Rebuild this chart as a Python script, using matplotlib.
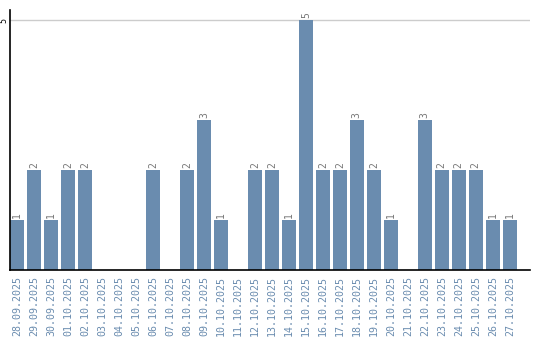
import matplotlib
matplotlib.use("Agg")
import matplotlib.pyplot as plt

# data
dates = ["28.09.2025", "29.09.2025", "30.09.2025", "01.10.2025", "02.10.2025",
         "03.10.2025", "04.10.2025", "05.10.2025", "06.10.2025", "07.10.2025",
         "08.10.2025", "09.10.2025", "10.10.2025", "11.10.2025", "12.10.2025",
         "13.10.2025", "14.10.2025", "15.10.2025", "16.10.2025", "17.10.2025",
         "18.10.2025", "19.10.2025", "20.10.2025", "21.10.2025", "22.10.2025",
         "23.10.2025", "24.10.2025", "25.10.2025", "26.10.2025", "27.10.2025"]
counts = [1, 2, 1, 2, 2, 0, 0, 0, 2, 0,
          2, 3, 1, 0, 2, 2, 1, 5, 2, 2,
          3, 2, 1, 0, 3, 2, 2, 2, 1, 1]

bar_color = "#6a8caf"

fig = plt.figure(figsize=(5.4, 3.4), dpi=100)
ax = fig.add_axes([10 / 540, 70 / 340, 520 / 540, 260 / 340])

x = list(range(len(dates)))
ax.bar(x, counts, width=0.82, color=bar_color, zorder=2)

for xi, c in zip(x, counts):
    if c > 0:
        ax.text(xi, c + 0.05, str(c), rotation=90, ha="center", va="bottom",
                fontsize=7, color="#777777", family="DejaVu Sans Mono")

ax.set_xlim(-0.41, 30.19)
ax.set_ylim(0, 5.2)
ax.set_yticks([5])
ax.set_yticklabels(["5"], rotation=90, va="center", fontsize=6,
                   family="DejaVu Sans Mono")
ax.set_xticks(x)
ax.set_xticklabels(dates, rotation=90, fontsize=7.2, color=bar_color,
                   family="DejaVu Sans Mono")
ax.tick_params(axis="both", length=0, pad=4)
ax.tick_params(axis="y", pad=1)

ax.axhline(5, color="#cccccc", lw=1, zorder=1)
for s in ["top", "right"]:
    ax.spines[s].set_visible(False)
ax.spines["left"].set_linewidth(1.2)
ax.spines["bottom"].set_linewidth(1.2)

fig.savefig("out.png", dpi=100)
